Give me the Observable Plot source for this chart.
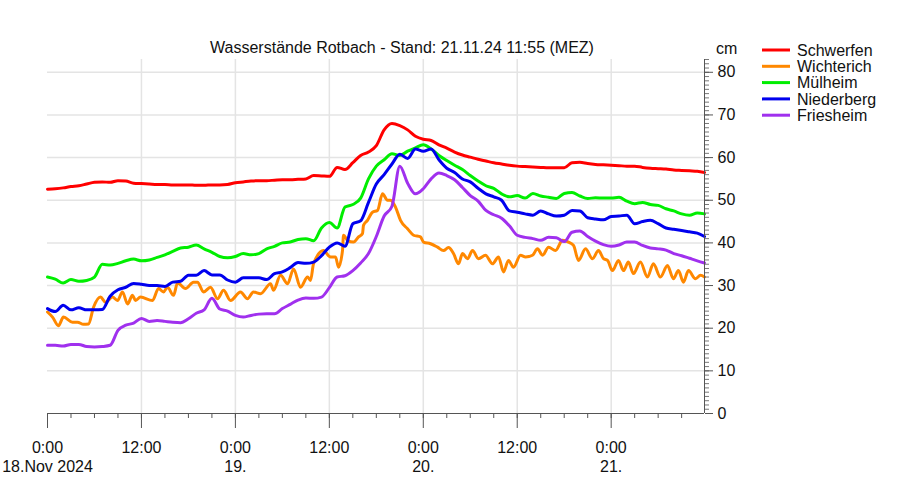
<!DOCTYPE html>
<html>
<head>
<meta charset="utf-8">
<script src="https://cdn.jsdelivr.net/npm/d3@7"></script>
<script src="https://cdn.jsdelivr.net/npm/@observablehq/plot@0.6"></script>
<style>
  html, body { margin: 0; padding: 0; background: #fff; }
  #chart svg { display: block; }
</style>
</head>
<body>
<div id="chart"></div>
<script>
// ---- data (hours after 18.11.2024 0:00 MEZ, water levels in cm) ----
const titleText = "Wasserstände Rotbach - Stand: 21.11.24 11:55 (MEZ)";
const unitLabel = "cm";
const seriesNames = ["Schwerfen", "Wichterich", "Mülheim", "Niederberg", "Friesheim"];
const seriesColors = ["#ff0000", "#ff8800", "#00ee00", "#0000ee", "#a030ee"];

const hours = [0,1,2,3,4,5,6,7,8,9,10,11,12,13,14,15,16,17,18,19,20,21,22,23,24,25,26,27,28,29,
  30,31,32,33,34,35,36,37,38,39,40,41,42,43,44,45,46,47,48,49,50,51,52,53,54,55,56,57,58,59,
  60,61,62,63,64,65,66,67,68,69,70,71,72,73,74,75,76,77,78,79,80,81,82,83,83.92];

const schwerfen = [52.6,52.7,52.9,53.2,53.4,53.8,54.2,54.3,54.2,54.6,54.5,54.0,53.9,53.8,53.7,53.7,53.6,53.6,53.6,53.5,
  53.5,53.6,53.6,53.7,54.1,54.3,54.5,54.6,54.6,54.7,54.8,54.8,54.9,55.0,55.8,55.7,55.6,57.7,57.2,58.8,
  60.5,61.3,62.8,66.5,68.0,67.5,66.5,65.0,64.3,64.0,63.0,62.2,61.3,60.6,60.1,59.6,59.2,58.8,58.5,58.2,
  58.0,57.9,57.8,57.7,57.6,57.6,57.6,58.8,58.9,58.6,58.4,58.3,58.2,58.1,58.0,58.0,57.7,57.5,57.4,57.3,
  57.1,57.0,56.9,56.8,56.5];

// Wichterich oscillates strongly, so it is read at its own (denser) time points
const wichterichHours = [0,0.64,1.4,2.04,3.19,3.83,4.6,5.24,5.88,6.77,7.41,8.3,8.94,9.58,10.22,10.86,11.24,11.88,13.41,14.18,
  14.82,15.33,16.1,16.61,17.63,18.65,19.16,19.93,20.82,21.72,22.48,23.38,24.65,25.55,26.31,27.21,28.49,28.87,29.77,30.66,
  31.43,32.32,33.22,33.6,33.98,35.26,36.15,36.79,37.17,37.68,37.81,38.32,39.09,39.73,40.24,40.36,40.87,41.51,42.15,42.79,
  43.43,43.81,44.45,45.09,45.99,46.76,47.64,48.03,48.92,49.81,50.58,51.22,51.86,52.5,53.01,53.65,54.29,55.05,55.95,56.84,
  57.61,58.25,58.88,59.52,60.42,61.06,61.95,62.59,63.23,64.0,64.89,65.79,66.55,67.19,67.83,68.72,69.61,70.38,71.02,71.53,
  72.17,72.93,73.57,74.2,74.84,75.73,76.63,77.39,78.29,79.19,79.95,80.59,81.23,81.87,82.77,83.41,83.92];
const wichterich = [23.8,22.6,20.6,22.6,21.4,21.4,20.9,21.0,24.9,27.3,26.1,27.3,26.5,28.5,25.7,27.7,26.5,27.3,26.5,29.3,
  28.5,29.6,27.7,30.6,29.3,30.8,30.8,28.5,29.6,26.9,28.9,26.5,28.5,26.9,28.5,28.1,30.4,28.9,32.4,30.4,
  33.9,29.6,32.0,31.2,35.1,38.2,36.7,36.7,34.3,38.2,41.8,40.6,40.2,41.4,42.2,44.1,45.3,47.2,47.6,51.5,
  50.0,50.0,48.4,45.3,43.3,41.8,41.4,40.2,39.8,39.0,38.2,38.9,37.5,35.1,37.5,36.3,38.2,36.3,37.1,35.1,
  36.7,33.2,35.9,34.3,37.1,36.7,37.1,38.6,37.1,39.0,38.2,40.6,40.2,39.4,35.9,38.6,36.3,38.2,36.3,35.9,
  33.5,35.9,33.5,35.5,32.8,35.5,32.0,35.1,32.0,34.7,31.6,33.5,30.8,33.5,31.6,32.4,32.0];

const muelheim = [32.0,31.5,30.6,31.4,31.0,31.2,32.0,35.0,34.8,35.2,35.8,36.2,35.8,36.0,36.6,37.2,38.0,38.8,39.0,39.5,
  38.6,37.8,36.8,36.5,36.8,37.5,37.2,37.5,38.6,39.2,40.0,40.2,40.8,41.0,40.5,43.5,44.8,43.5,48.4,49.0,
  50.5,55.0,58.0,59.5,60.9,60.5,61.5,62.3,63.0,62.0,60.5,59.3,58.2,57.2,55.8,54.5,53.4,52.8,51.5,50.8,
  51.1,50.5,51.6,51.0,50.7,50.4,51.6,51.8,51.0,50.4,50.6,50.5,50.5,50.7,49.8,49.2,49.5,49.0,48.8,48.0,
  47.5,46.8,46.5,47.0,46.8];

const niederberg = [24.6,23.9,25.4,24.3,24.8,24.3,24.3,24.4,27.5,29.0,29.6,30.5,30.3,30.0,30.0,29.8,30.8,31.0,32.4,32.4,
  33.5,32.5,32.5,31.3,30.8,31.8,31.8,31.8,31.4,32.8,33.2,34.2,35.4,35.2,35.5,37.0,39.0,40.0,39.2,44.5,
  45.2,49.5,53.8,56.0,58.5,60.8,59.8,62.0,61.5,62.0,59.5,57.5,56.5,55.0,54.3,52.8,51.5,50.8,50.0,47.5,
  47.2,46.8,46.5,47.5,46.8,46.3,46.5,47.6,47.5,45.9,45.6,45.4,46.2,46.3,46.5,44.5,45.0,45.3,44.5,43.5,
  43.2,42.9,42.6,42.3,41.5];

const friesheim = [16.0,16.0,15.8,16.2,16.2,15.7,15.6,15.7,16.0,19.5,20.7,21.2,22.3,21.6,21.8,21.6,21.4,21.3,22.2,23.5,
  24.3,27.0,24.5,24.0,23.0,22.6,23.0,23.3,23.4,23.4,24.6,25.6,26.6,27.1,27.0,27.3,29.5,32.0,32.3,33.5,
  35.3,37.5,41.5,46.3,48.6,58.0,54.0,51.5,52.7,55.0,56.4,55.8,54.8,53.0,51.1,49.8,47.6,46.6,45.8,44.0,
  41.8,41.3,41.0,40.6,41.3,41.2,40.3,42.5,42.8,41.5,40.4,39.6,39.2,39.5,40.2,40.2,39.4,38.8,38.6,38.3,
  37.5,37.0,36.4,35.8,35.3];

const yTicks = [0, 10, 20, 30, 40, 50, 60, 70, 80];
const xTickHours = [0, 12, 24, 36, 48, 60, 72];
const xTickLabels = ["0:00\n18.Nov 2024", "12:00", "0:00\n19.", "12:00", "0:00\n20.", "12:00", "0:00\n21."];

// ---- build table ----
const start = Date.UTC(2024, 10, 18, 0, 0);
const toDate = h => new Date(start + h * 3600 * 1000);
const seriesValues = [schwerfen, wichterich, muelheim, niederberg, friesheim];
const seriesHours = [hours, wichterichHours, hours, hours, hours];
const rows = [];
seriesNames.forEach((name, i) => {
  seriesValues[i].forEach((v, j) => rows.push({name, t: toDate(seriesHours[i][j]), v}));
});
const xEnd = toDate(83.92);
const xMajor = xTickHours.map(toDate);
const xMinor = d3.range(0, 84, 3).map(toDate);
const yMinor = d3.range(0, 84, 1);

const FONT = "Liberation Sans, Arial, Helvetica, sans-serif";
const W = 910, H = 496, ML = 47, MR = 206, MT = 59, MB = 83;

const svg = Plot.plot({
  width: W, height: H,
  marginLeft: ML, marginRight: MR, marginTop: MT, marginBottom: MB,
  style: {fontFamily: FONT, fontSize: "16px", background: "#fff", color: "#222"},
  x: {type: "utc", domain: [toDate(0), xEnd], label: null},
  y: {domain: [0, 83], label: null},
  color: {domain: seriesNames, range: seriesColors},
  marks: [
    Plot.gridY(yTicks.filter(d => d > 0), {stroke: "#e4e4e4", strokeOpacity: 1, strokeWidth: 1.5}),
    Plot.gridX(xMajor.slice(1), {stroke: "#e4e4e4", strokeOpacity: 1, strokeWidth: 1.5}),
    Plot.line(rows, {x: "t", y: "v", z: "name", stroke: "name", strokeWidth: 3, curve: "monotone-x", strokeLinejoin: "round"}),
    // bottom axis
    Plot.ruleY([0], {stroke: "#555", strokeWidth: 1}),
    Plot.axisX({ticks: xMinor, tickSize: 5, text: null, label: null, stroke: "#555"}),
    Plot.axisX({ticks: xMajor, tickSize: 15, text: null, label: null, stroke: "#555"}),
    Plot.text(xTickHours, {
      x: d => toDate(d), frameAnchor: "bottom", dy: 26, lineAnchor: "top",
      text: (d, i) => xTickLabels[i], fontSize: 16, lineHeight: 1.2, fill: "#111", textAnchor: "middle"
    }),
    // right axis
    Plot.ruleX([xEnd], {stroke: "#555", strokeWidth: 1}),
    Plot.axisY({anchor: "right", ticks: yMinor, tickSize: 4, text: null, label: null, stroke: "#777"}),
    Plot.axisY({anchor: "right", ticks: yTicks, tickSize: 8, tickPadding: 5, fontSize: 16, stroke: "#555", fill: "#111", label: null, textAnchor: "start"})
  ]
});

const s = d3.select(svg);
s.append("text")
  .attr("x", 402).attr("y", 53)
  .attr("text-anchor", "middle")
  .attr("font-family", FONT).attr("font-size", 16).attr("fill", "#111")
  .text(titleText);
s.append("text")
  .attr("x", 716).attr("y", 54)
  .attr("text-anchor", "start")
  .attr("font-family", FONT).attr("font-size", 16).attr("fill", "#111")
  .text(unitLabel);
const lg = s.append("g");
seriesNames.forEach((name, i) => {
  const y = 50 + i * 16.3;
  lg.append("line").attr("x1", 762).attr("x2", 790).attr("y1", y).attr("y2", y)
    .attr("stroke", seriesColors[i]).attr("stroke-width", 3);
  lg.append("text").attr("x", 797).attr("y", y).attr("dy", "0.35em")
    .attr("text-anchor", "start")
    .attr("font-family", FONT).attr("font-size", 16).attr("fill", "#111")
    .text(name);
});

document.getElementById("chart").appendChild(svg);
</script>
</body>
</html>
